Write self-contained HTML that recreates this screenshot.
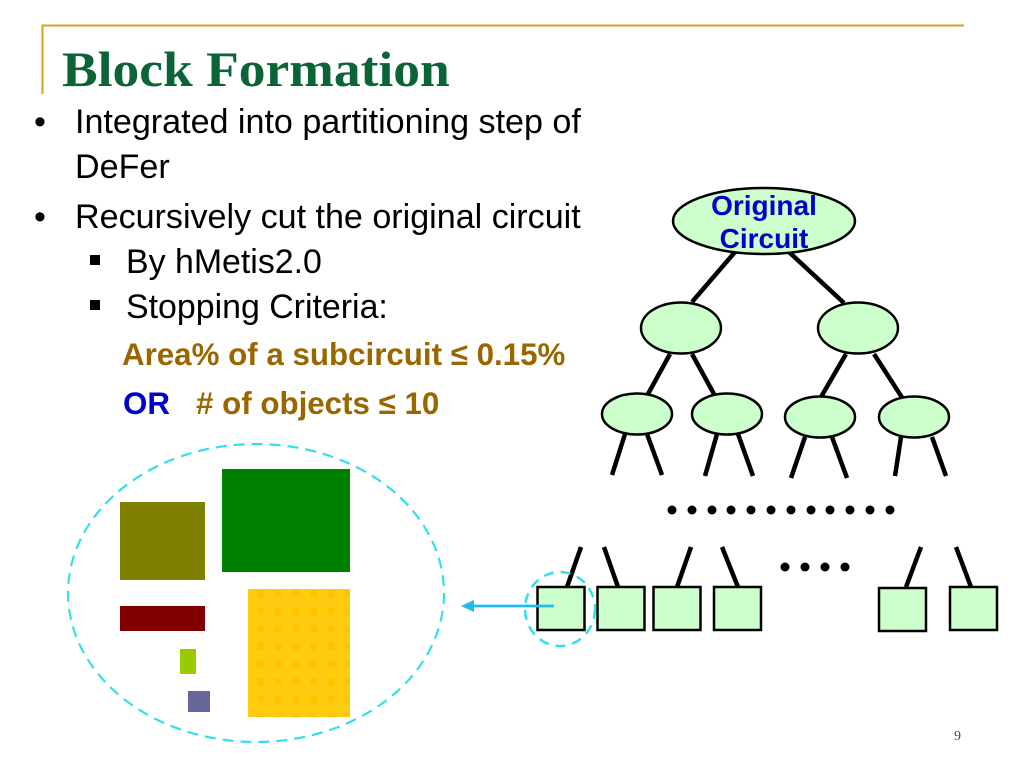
<!DOCTYPE html>
<html><head><meta charset="utf-8">
<style>
html,body{margin:0;padding:0;background:#fff}
svg{display:block}
text{font-family:"Liberation Sans",sans-serif}
</style></head><body>
<svg width="1024" height="768" viewBox="0 0 1024 768" xmlns="http://www.w3.org/2000/svg">
<defs>
<pattern id="p" x="248" y="589" width="17.6" height="17.6" patternUnits="userSpaceOnUse">
<rect width="17.6" height="17.6" fill="#ffcc11"/>
<rect x="9" y="1" width="7.500" height="7.500" fill="#ffc400"/>
</pattern>
</defs>
<rect width="1024" height="768" fill="#fff"/>
<path d="M964 25.500H42.500V94" fill="none" stroke="#cfa52a" stroke-width="2"/>
<text transform="translate(62,86) scale(1.07,1)" font-size="50" font-weight="bold" fill="#0b6338" style="font-family:'Liberation Serif',serif">Block Formation</text>

<g font-size="34.100" fill="#000">
<text x="34" y="133">•</text>
<text x="75" y="133">Integrated into partitioning step of</text>
<text x="75" y="178">DeFer</text>
<text x="34" y="228">•</text>
<text x="75" y="228">Recursively cut the original circuit</text>
<text x="126" y="273" font-size="33.900">By hMetis2.0</text>
<text x="126" y="318" font-size="33.900">Stopping Criteria:</text>
</g>
<rect x="90" y="255" width="10" height="10" fill="#000"/>
<rect x="90" y="300" width="10" height="10" fill="#000"/>
<g font-size="31.300" font-weight="bold">
<text x="122" y="365" fill="#996600">Area% of a subcircuit ≤ 0.15%</text>
<text x="123" y="414" fill="#0000cc">OR</text>
<text x="196" y="414" fill="#996600"># of objects ≤ 10</text>
</g>

<ellipse cx="256" cy="593" rx="188" ry="149" fill="none" stroke="#33e0ea" stroke-width="2.200" stroke-dasharray="11 7"/>
<rect x="120" y="502" width="85" height="78" fill="#808000"/>
<rect x="222" y="469" width="128" height="103" fill="#008000"/>
<rect x="120" y="606" width="85" height="25" fill="#800000"/>
<rect x="248" y="589" width="102" height="128" fill="url(#p)"/>
<rect x="180" y="649" width="16" height="25" fill="#99cc00"/>
<rect x="188" y="691" width="22" height="21" fill="#666699"/>

<g stroke="#000" stroke-width="4.500" fill="none">
<path d="M735 252L692 302M789 252L844 303"/>
<path d="M670 354L648 394M692 354L714 394M846 354L821 397M874 354L903 399"/>
<path d="M625 434L612 475M647 434L662 475M717 434L705 476M738 434L753 476M805 437L791 478M832 437L847 478M901 437L895 476M932 437L946 476"/>
<path d="M581 547L567 587M604 547L618 587M691 547L677 587M722 547L738 587M921 547L906 587M956 547L971 587"/>
</g>
<g fill="#ccffcc" stroke="#000" stroke-width="2.500">
<ellipse cx="764" cy="221" rx="91" ry="33"/>
<ellipse cx="681" cy="328" rx="40" ry="25.500"/>
<ellipse cx="858" cy="328" rx="40" ry="25.500"/>
<ellipse cx="637" cy="414" rx="35" ry="20.500"/>
<ellipse cx="727" cy="414" rx="35" ry="20.500"/>
<ellipse cx="820" cy="417" rx="35" ry="20.500"/>
<ellipse cx="914" cy="417" rx="35" ry="20.500"/>
<rect x="537.500" y="587" width="47" height="43"/>
<rect x="597.500" y="587" width="47" height="43"/>
<rect x="653.500" y="587" width="47" height="43"/>
<rect x="714" y="587" width="47" height="43"/>
<rect x="879" y="588" width="47" height="43"/>
<rect x="950" y="587" width="47" height="43"/>
</g>
<g font-size="28" font-weight="bold" fill="#0000cc" text-anchor="middle">
<text x="764" y="215">Original</text>
<text x="764" y="248">Circuit</text>
</g>
<g fill="#000">
<circle cx="672" cy="510" r="4.500"/><circle cx="692" cy="510" r="4.500"/><circle cx="712" cy="510" r="4.500"/><circle cx="731" cy="510" r="4.500"/><circle cx="751" cy="510" r="4.500"/><circle cx="771" cy="510" r="4.500"/><circle cx="791" cy="510" r="4.500"/><circle cx="811" cy="510" r="4.500"/><circle cx="830" cy="510" r="4.500"/><circle cx="850" cy="510" r="4.500"/><circle cx="870" cy="510" r="4.500"/><circle cx="890" cy="510" r="4.500"/>
<circle cx="785" cy="567" r="4.500"/><circle cx="805" cy="567" r="4.500"/><circle cx="825" cy="567" r="4.500"/><circle cx="845" cy="567" r="4.500"/>
</g>
<ellipse cx="560" cy="609" rx="35" ry="37" fill="none" stroke="#33e0ea" stroke-width="2.500" stroke-dasharray="10 7"/>
<path d="M554 606H470" stroke="#22bbee" stroke-width="2.800"/>
<path d="M461 606L474 600V612Z" fill="#22bbee"/>
<text x="954" y="740" font-size="14" fill="#444" style="font-family:'Liberation Serif',serif">9</text>
</svg>
</body></html>
